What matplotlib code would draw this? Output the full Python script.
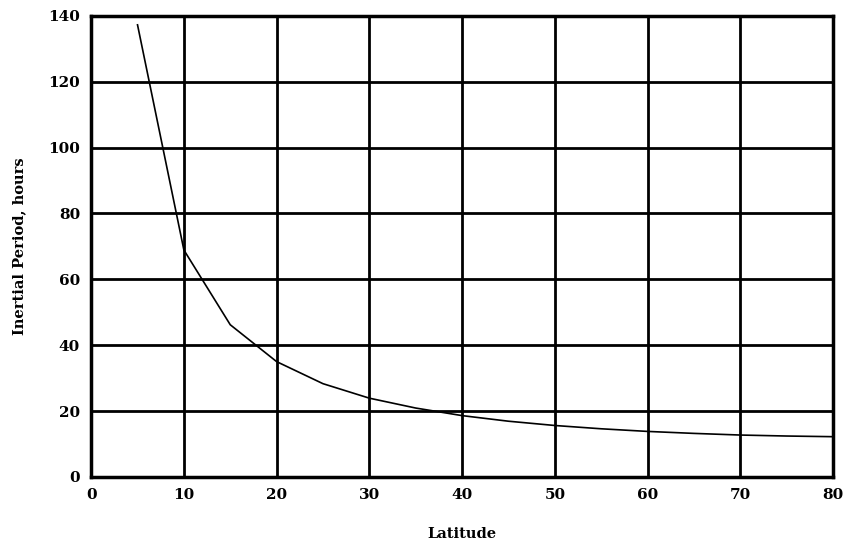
import matplotlib
matplotlib.use("Agg")
import matplotlib.pyplot as plt

latitude = [5, 10, 15, 20, 25, 30, 35, 40, 45, 50, 55, 60, 65, 70, 75, 80]
period_hours = [137.3, 68.9, 46.2, 35.0, 28.3, 23.9, 20.9, 18.6, 16.9, 15.6, 14.6, 13.8, 13.2, 12.7, 12.4, 12.2]
x_ticks = [0, 10, 20, 30, 40, 50, 60, 70, 80]
y_ticks = [0, 20, 40, 60, 80, 100, 120, 140]

fig = plt.figure(figsize=(8.44, 5.5), dpi=100)
ax = fig.add_axes([0.108, 0.133, 0.879, 0.838])
ax.plot(latitude, period_hours, color="black", lw=1.2)
ax.set_xlim(0, 80)
ax.set_ylim(0, 140)
ax.set_xticks(x_ticks)
ax.set_yticks(y_ticks)
ax.grid(True, color="black", lw=2)
for s in ax.spines.values():
    s.set_linewidth(2.5)
ax.tick_params(length=0, pad=8)
font = dict(family="DejaVu Serif", weight="bold", size=10.5)
for lab in ax.get_xticklabels() + ax.get_yticklabels():
    lab.set_fontfamily("DejaVu Serif")
    lab.set_fontweight("bold")
    lab.set_fontsize(11)
ax.set_xlabel("Latitude", fontdict=font, labelpad=18)
ax.set_ylabel("Inertial Period, hours", fontdict=font, labelpad=16)
fig.savefig("out.png", dpi=100)
